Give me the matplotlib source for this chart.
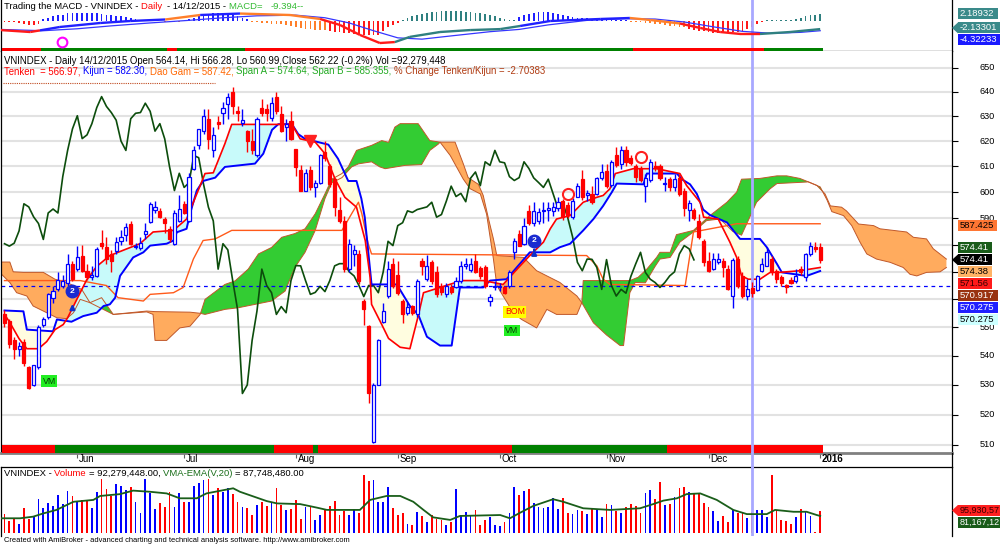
import numpy as np
import matplotlib
matplotlib.use('Agg')
import matplotlib.pyplot as plt
from matplotlib.patches import Rectangle, Polygon
from matplotlib.collections import LineCollection
from matplotlib.lines import Line2D
from matplotlib.transforms import IdentityTransform
import matplotlib.ticker as mticker

plt.rcParams['font.family'] = ['Liberation Sans', 'DejaVu Sans']

# ---------------- data ----------------
opens = [554.6, 552.2, 545.5, 542.5, 545, 536, 530, 536, 551, 553.5,
         560.6, 563.7, 565, 566, 573, 571, 576, 570.4, 568, 568.5,
         580.6, 579, 576.6, 577.8, 581.6, 583.5, 587.9, 579, 578.9, 584,
         588.5, 593, 592.8, 589.7, 586, 580.4, 589, 595.4, 589, 609,
         618.3, 624, 629, 616.3, 627.6, 631.2, 635, 640, 632, 627.2,
         624, 620, 614.3, 633.2, 633, 629.1, 638, 631, 625.7, 628.2,
         616.7, 608.4, 600.6, 608.4, 601.8, 603.6, 615.6, 610, 605, 593,
         589, 571, 576.6, 576.6, 559.4, 550.4, 511, 530, 552, 561.2,
         573, 569, 559.4, 555, 557.5, 554.6, 574, 567.2, 573.5, 570,
         565, 561.8, 564.3, 564.3, 566.8, 572, 570.5, 574, 571.5, 571.6,
         559.5, 564.5, 564.5, 564.3, 564.7, 577.5, 584.2, 580.4, 592.8, 588.3,
         589.1, 592.7, 593, 592.7, 594, 596.5, 595, 590.4, 598.3, 605,
         598.8, 599.3, 599.3, 605.6, 608, 602.6, 614.3, 611, 616.3, 613.4,
         610, 609.4, 602.3, 604.5, 610.2, 610, 603, 605, 601.8, 605.6,
         600.6, 593.3, 593.3, 589.1, 581.6, 574, 571, 573.8, 574, 571,
         561.2, 574.7, 568.5, 561.2, 564.14, 563.4, 570.4, 572.2, 574.7, 570.4,
         568, 565.2, 567, 566.8, 571, 568, 576.6, 579.3, 579]
highs = [556, 553, 546.7, 545, 546, 536.5, 537, 551, 553.5, 562.4,
         564.8, 570, 569, 576.6, 574, 579.7, 580, 573, 572, 579,
         585.4, 583, 578, 583, 585.5, 588, 589, 580.5, 583, 588,
         596, 596.5, 594, 590.5, 587, 593, 598.7, 596.5, 607.5, 618,
         625, 633, 633, 625.5, 630, 636, 639.4, 642, 634, 633,
         624.5, 625, 629.5, 637, 635, 638, 640, 634, 629, 632,
         617, 610.5, 609, 610, 604.5, 615, 620, 611, 605.6, 598,
         591, 582, 580, 578, 560, 551, 530.5, 546, 558.8, 574,
         575, 574, 560, 559, 558, 567.5, 575, 576.3, 574.5, 572,
         566, 566, 565.5, 568, 574, 575, 575, 576.5, 572, 572.5,
         562, 566.5, 566, 565, 570.8, 582.5, 585.5, 590, 595, 596,
         594, 596, 596, 596, 598.2, 597.5, 596, 597.8, 603.5, 608.5,
         601, 602.5, 606, 611, 611, 612.5, 617.7, 618, 618, 614.5,
         611, 610, 607, 613, 612, 611, 606, 606, 607, 607,
         601.5, 597, 594, 591.5, 582.3, 577.2, 577, 577, 575, 572.5,
         575, 576, 570, 567.3, 566.28, 569, 575, 579, 576, 571,
         569, 565.7, 568, 571, 572, 577, 581, 581, 580.8]
lows = [550, 542.8, 539, 540, 536.5, 528.5, 529.5, 535.5, 550, 552.8,
        558.8, 563, 564, 565, 566.5, 570.4, 569.8, 567, 567, 568,
        578.5, 573, 570, 576.6, 580, 581.6, 580, 578.5, 578, 582,
        588, 592, 590, 584.5, 581, 580, 588.5, 591.5, 588.5, 608.5,
        617, 623, 617, 613.5, 625, 627, 629, 631, 628, 626,
        615.5, 615, 613.5, 630, 628, 628, 631, 623.5, 620, 620.5,
        606.3, 600.5, 600.5, 601, 598, 603, 612, 602, 591, 588,
        570, 570, 572, 565.5, 551, 524, 510.5, 530, 551.5, 560.5,
        564, 561.5, 551.6, 554.5, 554.5, 553.5, 569, 566.5, 565.5, 561,
        561.5, 561, 562, 564, 566, 571, 570, 569.5, 567.5, 564,
        557.5, 563.5, 563, 561.8, 564, 574.7, 579.5, 580, 587.5, 587.2,
        587.8, 588, 589, 591, 592.8, 589.5, 590, 589.8, 598, 597,
        596.5, 595.5, 599, 604.5, 601.5, 602, 609.8, 609, 610, 610.5,
        604, 604, 596, 604, 608, 604.5, 600.5, 600.5, 600.5, 598.5,
        591, 589, 589.5, 582, 572, 569.8, 570.5, 573, 568, 563.5,
        557, 564, 560.5, 559.8, 560.99, 563, 569.8, 572, 569, 566,
        565, 562.3, 565.5, 566, 569, 566.8, 576, 577.3, 573.3]
closes = [551.6, 544.3, 542.5, 543.5, 537.5, 529, 536.7, 550, 552.8, 561.8,
          563, 567.1, 566.5, 573, 567.4, 575.4, 570.4, 568, 569, 578.5,
          579.7, 574.7, 574, 581, 583.1, 586.6, 580.4, 579.5, 580.6, 585.2,
          595.5, 594.3, 590.5, 588, 582, 592, 593.5, 592, 606, 616.3,
          624.9, 630.2, 621, 622.5, 627, 633.5, 638, 634, 631.5, 628.4,
          620, 616.3, 629, 631.2, 631.5, 635.3, 632, 624, 627, 620.9,
          609.8, 600.6, 607.3, 601.8, 603.6, 614.3, 613.4, 603, 594.2, 589,
          571, 580.4, 578.1, 566.8, 556.4, 527.1, 530, 545.4, 555.8, 571,
          565, 562.4, 554.6, 557.4, 555.2, 566.8, 572.3, 572.2, 566.8, 561.8,
          562.5, 564.7, 562.8, 566.8, 572.2, 573, 573, 570, 568.5, 565,
          561, 565, 565, 562.4, 570, 581.3, 579.7, 587.2, 588.3, 592.8,
          592.2, 593.3, 593.8, 594.3, 596.1, 590.4, 591.4, 596.5, 602.3, 598.3,
          599.5, 596.3, 605.4, 607.8, 602.5, 611.8, 610.4, 616.3, 611.8, 611.4,
          606, 604.5, 605.6, 611.8, 609.2, 605.5, 603.7, 601.8, 605, 599.3,
          593.7, 595.8, 590.2, 583, 573.5, 570.4, 574.7, 574.6, 571.6, 563.6,
          574.5, 565, 561.2, 563.6, 562.22, 568.3, 572.9, 577.2, 569.8, 567.3,
          566.1, 564.3, 566.1, 568.5, 570, 576.6, 579.7, 578.5, 574.41]

# volume, millions
volumes = [80, 52, 57, 37, 105, 57, 72, 144, 105, 129,
           115, 162, 123, 181, 158, 133, 141, 141, 105, 176,
           230, 187, 158, 208, 201, 184, 195, 133, 83, 230,
           172, 101, 126, 112, 176, 109, 169, 133, 133, 201,
           215, 227, 230, 162, 191, 176, 191, 166, 133, 109,
           105, 76, 119, 133, 115, 133, 191, 119, 98, 101,
           141, 59, 112, 115, 55, 76, 98, 115, 138, 76,
           95, 76, 101, 86, 248, 224, 227, 133, 133, 195,
           105, 76, 83, 37, 33, 90, 72, 47, 76, 57,
           55, 33, 47, 187, 76, 90, 72, 98, 33, 55,
           66, 33, 29, 47, 86, 198, 162, 181, 187, 126,
           109, 108, 109, 148, 101, 148, 86, 80, 98, 95,
           80, 101, 101, 69, 123, 119, 95, 86, 109, 123,
           115, 86, 172, 184, 144, 219, 119, 123, 155, 191,
           195, 176, 172, 166, 126, 109, 95, 52, 72, 47,
           98, 86, 90, 62, 90, 98, 98, 66, 248, 98,
           55, 52, 37, 66, 101, 90, 72, 4, 93]
vema_i = [-1, 3.2, 5.9, 8, 10.7, 14.2, 18.3, 19.7, 23.8, 26.5,
          30, 33.4, 36.1, 39.6, 41.6, 47.1, 48.5, 54, 56.1, 60.9,
          64.3, 66.4, 73.2, 75.3, 78.7, 81.5, 84.2, 86.3, 88.3, 91.8,
          93.8, 102.1, 104.1, 106.2, 108.9, 113, 115.1, 119.2, 124.7, 130.9,
          133.6, 135.7, 138.5, 140.5, 143.3, 146.7, 150.1, 152.9, 157, 158.7,
          162.5, 165.2, 167.3, 168]
vema_v = [62, 62, 69, 83, 98, 133, 141, 158, 166, 181,
          176, 169, 148, 148, 169, 191, 176, 136, 126, 123,
          108, 98, 98, 141, 158, 158, 133, 98, 66, 55,
          72, 76, 62, 86, 115, 144, 133, 105, 98, 105,
          123, 138, 148, 166, 169, 141, 98, 80, 80, 98,
          90, 90, 76, 72]

tenkan_i = [0, 1, 3, 4.6, 7, 8.7, 10.4, 12.1, 13, 14.9,
            16.9, 19, 21.7, 25.2, 27.9, 30.6, 34.8, 37.5, 40.3, 41.3,
            43, 45.4, 46.8, 59.2, 60.9, 64, 66, 68.1, 70.1, 72.5,
            74.3, 75.3, 75.6, 77.7, 79.1, 81.5, 83.5, 85.2, 86.3, 89.7,
            94.2, 98.6, 102.7, 106.2, 108.2, 111, 112.4, 113.7, 116.5, 119.2,
            122, 123.3, 124.7, 125.8, 129.5, 134.3, 139.1, 140.5, 143.3,
            144, 147, 149.4, 150.8, 151.8, 153.2, 155.6, 157.7, 159.7, 163.8,
            168]
tenkan_v = [554.6, 552, 546, 542.5, 542.5, 545, 549.2, 551, 553.4, 560,
            567, 572, 576, 578.5, 580.4, 584.8, 585.4, 589.7, 602.5, 607.2,
            607.5, 619, 626.7, 626.7, 620.9, 619.6, 615, 605, 598, 594.2,
            581.6, 568, 558.2, 551, 546.1, 543, 542.5, 554, 562.4, 564.3,
            566.8, 566.8, 565.4, 572.2, 576, 581, 586, 589.7, 591, 596.1,
            598, 598.7, 601.3, 607.2, 609.1, 609.1, 607.2, 602.5, 596,
            590.4, 589.7, 581, 575.3, 568.5, 567.3, 567.3, 569.8, 569.8, 570.4,
            571.6]
kijun_i = [0, 3.9, 4.6, 10, 10.8, 13.8, 16.2, 19, 20.4, 21.7,
           22.8, 23.8, 26.5, 28.6, 30, 33.4, 34.8, 35.5, 37.5, 38.2,
           39.6, 40.9, 43.4, 45.4, 51.6, 53.3, 55.1, 56.4, 59.2, 60.5,
           61.9, 66.7, 68.7, 70.8, 72.5, 73.5, 74.2, 75.6, 80.8, 83.5,
           85.2, 87, 89.7, 92.1, 93.8, 98.6, 100, 103.4, 108.2, 112.4,
           114.4, 116.5, 119.2, 121.3, 123.3, 125.1, 126.1, 131.6, 132.3, 138.5,
           139.5, 141.2, 142.6, 143.9, 145.3, 148.8, 151.5, 155.6, 157, 159.1,
           160.1, 165.2, 168]
kijun_v = [556, 555.7, 549.2, 548.6, 552.8, 552, 554, 555.2, 557.6, 558.2,
           560.6, 568.5, 575.3, 577.2, 579.7, 580.4, 581.6, 584.7, 586, 591.6,
           600.6, 604.3, 605.6, 609.8, 611.1, 615, 624.5, 626.8, 626.8, 622.8,
           620.9, 618.6, 613, 604.3, 604.3, 597.5, 590.4, 565.4, 565.4, 557.6,
           554.6, 546.7, 543.6, 543.6, 564.3, 564.3, 566.8, 567.3, 577.2, 577.2,
           579.1, 580.4, 585.4, 589.7, 594.7, 600, 603.3, 603, 607.2, 607.2,
           605, 603, 599.3, 593.3, 591.2, 588.4, 582.2, 582.2, 579.1, 572.9,
           569.8, 568.5, 570.3]
daogam_i = [0, 15.6, 21, 23.4, 28.6, 30, 34.8, 36.8, 38.9, 40.9,
            43.4, 46.8, 69.5, 71.5, 72.9, 73.6, 74.9, 75.6, 119.9, 122,
            123.3, 124.7, 140.2, 141.9, 147.4, 150.8, 168]
daogam_v = [566.8, 566.8, 565, 560.6, 559.4, 561.8, 562.4, 564.3, 574.7, 581.6,
            582.2, 585.4, 585.4, 591.7, 596.1, 591.7, 580.4, 576.6, 576, 572.2,
            567.3, 565.4, 565, 584.8, 586.7, 587.9, 587.9]
spanA_i = [-1, 1.1, 2.5, 4.6, 5.9, 8.7, 10.8, 12.8, 14.2, 15.6,
           17.6, 20, 22.4, 29.3, 30.6, 31, 33.4, 36.1, 38.2, 40.3,
           41.3, 45.4, 47.5, 50.2, 52.3, 55, 57.1, 59.8, 61.9, 64,
           66, 67.4, 69.5, 70.8, 72.5, 75.6, 77.7, 79.1, 80.4, 81.5,
           85.2, 87.6, 89.7, 91.8, 94.5, 95.9, 98, 99.3, 100.7, 101.4,
           102.7, 104.8, 106.5, 109.6, 111.7, 113.7, 117.9, 118.9, 119.2, 128.8,
           130.5, 132.3, 134.3, 135, 137.1, 138.4, 141.9, 145.3, 148.8, 150.8,
           151.8, 155.6, 159.1, 161.1, 163.8, 165.5, 168, 169.4, 170.4, 172.8,
           174.5, 176.2, 177.6, 179.6, 182.4, 185.1, 186.5, 187.9, 189.9, 192.7,
           194]
spanA_v = [569.8, 566.1, 562.4, 561.2, 557.6, 555.2, 553.4, 553.1, 555.2, 560,
           558.8, 560.6, 554.6, 555.5, 554.6, 545.4, 545.4, 549.8, 550.4, 554.6,
           560, 565.4, 566.7, 571, 576.6, 579, 582.8, 584.2, 586, 591.7,
           599.3, 605, 607.2, 609.8, 616.3, 618.3, 620.2, 619.5, 625.6, 627,
           627, 620.2, 619.6, 614.3, 605, 601.3, 599.3, 591.5, 574.7, 565,
           561.2, 555.2, 552.8, 549.8, 556.4, 554.6, 554.6, 558.8, 566.8, 566.8,
           568, 571, 575.3, 577.2, 577.2, 583.8, 585.4, 591, 596.1, 600,
           605, 605.3, 606.3, 606.3, 605.3, 604, 602, 597, 592.5, 591,
           587.2, 581, 576.6, 574.7, 573.5, 571.6, 569.1, 568.5, 569.8, 570,
           571.6]
spanB_i = [-1, 1.1, 1.8, 3.9, 8, 10.4, 12.8, 15.9, 17.6, 22.4,
           29.3, 31, 38.2, 40.3, 41.3, 45.4, 48.2, 55, 57.8, 59.8,
           61.9, 64, 66, 67.4, 69.5, 71.5, 72.9, 75.6, 77.3, 78.4,
           82.5, 85.9, 87.6, 89.4, 89.7, 92.8, 94.5, 95.5, 97.6, 98.6,
           99.7, 100.7, 101.4, 106.9, 109.6, 114.4, 117.9, 118.9, 121.3, 124,
           126.8, 127.5, 128.8, 129.9, 132, 134, 135, 137.1, 139.1, 141.9,
           144.6, 147.4, 150, 151.8, 154.9, 157.7, 159.1, 165.2, 165.5, 167.3,
           169, 170.1, 172.4, 173.4, 175.9, 179, 180.3, 185.8, 187.2, 189.9,
           191.3, 194]
spanB_v = [573.6, 573.6, 570, 569.8, 569.8, 567.3, 566.1, 563.6, 558.8, 554.6,
           555.8, 555.6, 555.4, 555, 554.6, 556.4, 557, 559.4, 563, 571.6,
           577.2, 585.4, 597.5, 603.6, 605.6, 609.8, 611, 611.8, 609.8, 609.1,
           610.4, 610.7, 616.3, 618.9, 619.6, 619.6, 611, 605.6, 603, 598.7,
           589.7, 582.2, 576, 575.3, 570.4, 566.1, 561.2, 558.8, 551.6, 547.3,
           543.6, 543.6, 562.4, 566.1, 566, 572, 574.7, 575.3, 581, 584.8,
           589.1, 589.7, 585, 583.6, 596.1, 601.3, 603.3, 603.9, 604, 602.6,
           599.3, 594.7, 594.2, 592.8, 587.8, 587.2, 586, 584.8, 582.8, 582.2,
           578.5, 574.7]
dashed_level = 565

macd_i = [-1, 5.3, 7.3, 11.4, 19.7, 25.9, 33.1, 40.3, 48.5, 58.8,
          65, 69.1, 73.2, 77.3, 80.4, 83.5, 89.7, 95.9, 102.1, 106.2,
          112.4, 122.7, 128.8, 133, 139.1, 143.3, 147.4, 151.5, 155.6, 161.8,
          168]
macd_v = [-2.78, -3.4, -2.9, -1.85, -0.62, 0, 0.46, 1.85, 2.3, 1.85,
          0.62, -1.23, -4.3, -6.8, -6.5, -4.9, -3.4, -2.8, -2.5, -1.54,
          0, 0.62, 0.93, 0.31, -0.77, -2.16, -3.4, -4.0, -4.0, -3.4,
          -2.5]
signal_i = [-1, 8, 15, 22, 30, 38, 45, 52, 60, 66,
            71, 76, 81, 86, 92, 100, 106, 112, 120, 128,
            134, 140, 146, 152, 158, 164, 168]
signal_v = [-2.6, -3.0, -2.4, -1.5, -0.6, 0.2, 1.0, 1.6, 1.8, 1.0,
            -0.6, -3.0, -5.2, -5.6, -4.6, -3.3, -2.6, -1.2, 0.2, 0.7,
            0.6, -0.3, -1.8, -3.2, -3.8, -3.5, -3.0]
hist = [-0.3, -0.4, -0.3, -0.5, -1.0, -1.2, -1.3, -0.8,
        0.5, 0.8, 1.5, 1.9, 2.0, 2.4, 2.5, 2.6, 2.6, 2.5, 2.4, 2.4, 2.2, 2.0, 1.9,
        1.6, 1.4, 1.1, 0.9, 0.6, 0.4, 0.3, 0.3, 0.2, 0.15,
        -0.2, -0.3, -0.25, -0.2, -0.1,
        0.6, 1.0, 1.5, 1.9, 2.1, 2.4, 2.4, 2.3, 2.1, 1.8, 1.5, 1.0, 0.5,
        -0.2, -0.3, -0.5, -0.6, -0.8, -1.0, -1.0, -1.2, -1.6, -1.9, -2.2, -2.4,
        -2.6, -2.8, -2.7, -2.9,
        -3.1, -3.3, -3.5, -3.6, -3.8, -3.9, -4.0, -4.2, -4.3, -4.3, -4.2, -3.0,
        -1.8, -1.2, -0.5,
        0.3, 0.8, 1.5, 1.9, 2.3, 2.5, 2.8, 2.9, 3.1, 3.1, 3.1, 3.0, 3.0, 2.9,
        2.8, 2.6, 2.5, 2.3, 2.0, 1.6, 1.0, 0.5, 0.3, 0.3,
        1.2, 1.9, 2.3, 2.6, 2.9, 2.9, 2.8, 2.6, 2.3, 2.0, 1.5, 1.2, 1.0, 0.9,
        0.8, 0.7, 0.7, 0.6, 0.6, 0.5, 0.4, 0.3, 0.2,
        -0.2, -0.3, -0.4, -0.5, -0.6, -0.8, -1.0, -1.2, -1.4, -1.6, -1.8, -2.0,
        -2.5, -2.8, -3.0, -3.2, -3.4, -3.6, -3.7, -3.7, -3.6, -3.5, -3.3, -3.0,
        -2.6, -1.7, -1.0, -0.3,
        0.2, 0.2, 0.3, 0.3, 0.3, 0.4, 0.5, 1.0, 1.5, 1.8, 2.0, 2.19]
hist_runs = [('r', 8), ('b', 25), ('o', 5), ('b', 13), ('o', 16), ('r', 15),
             ('t', 24), ('b', 23), ('o', 12), ('r', 16), ('t', 12)]
macd_strip_runs = [('r', 8), ('g', 26), ('r', 2), ('g', 14), ('r', 32),
                   ('g', 48), ('r', 27), ('g', 12)]
trend_runs = [('r', 11), ('g', 45), ('r', 8), ('g', 1), ('r', 40), ('g', 32), ('r', 32)]

month_labels = ['Jun', 'Jul', 'Aug', 'Sep', 'Oct', 'Nov', 'Dec', '2016']
month_start = [15, 37, 60, 81, 102, 124, 145, 168]
price_ticks = [510, 520, 530, 540, 550, 560, 570, 580, 590, 600, 610, 620, 630, 640, 650]
selected_bar = 154

# ---------------- figure ----------------
W, H = 1000, 547
fig = plt.figure(figsize=(W / 100, H / 100), dpi=100)
renderer = fig.canvas.get_renderer()
PX = IdentityTransform()


def panel(top, bottom):
    return fig.add_axes([1 / W, 1 - bottom / H, 951 / W, (bottom - top) / H])


ax_m = panel(0, 51)
ax = panel(51, 453)
ax_v = panel(467, 536)
for a in (ax_m, ax, ax_v):
    a.set_xlim(-0.72, 195.15)
    for s in a.spines.values():
        s.set_linewidth(0.9)

n = len(closes)
idx = np.arange(n)


def expand(runs):
    out = []
    for code, k in runs:
        out += [code] * k
    return out


# ---------------- MACD panel ----------------
hist_col = {'r': '#ff1a1a', 'o': '#ff7f2a', 'b': '#2020ff', 't': '#2f8080'}
hcodes = expand(hist_runs)
ax_m.set_ylim(-9.26, 6.48)
ax_m.bar(idx, hist, width=0.36, color=[hist_col[c] for c in hcodes], zorder=2)
ax_m.plot(signal_i, signal_v, color='#3535ff', lw=0.9, zorder=3)
segs, cols = [], []
for k in range(len(macd_i) - 1):
    segs.append([(macd_i[k], macd_v[k]), (macd_i[k + 1], macd_v[k + 1])])
    mid = int(round(min(max((macd_i[k] + macd_i[k + 1]) / 2, 0), n - 1)))
    cols.append(hist_col[hcodes[mid]])
ax_m.add_collection(LineCollection(segs, colors=cols, linewidths=1.7, zorder=4))
start = 0
for code, k in macd_strip_runs:
    ax_m.add_patch(Rectangle((start - 0.5, 0.006), k, 0.047, transform=ax_m.get_xaxis_transform(),
                             color='#ff0000' if code == 'r' else '#008000', lw=0, zorder=5))
    start += k
ax_m.plot([11.8], [-6.5], 'o', ms=7, mfc='none', mec='#ff00ff', mew=1.5, zorder=6)
ax_m.set_xticks([])
ax_m.set_yticks([])
ax_m.spines['top'].set_visible(False)

# ---------------- price panel ----------------
ax.set_yscale('log')
ax.set_ylim(507.3, 657.0)
ax.yaxis.set_major_locator(mticker.FixedLocator(price_ticks))
ax.yaxis.set_minor_locator(mticker.NullLocator())
ax.yaxis.set_major_formatter(mticker.NullFormatter())
ax.tick_params(axis='y', left=False, right=True, labelleft=False, labelright=False,
               length=4, width=0.8, direction='out')
ax.set_xticks(month_start)
ax.tick_params(axis='x', length=3.5, width=0.8, color='#606060', direction='out', labelbottom=False)
ax.grid(axis='y', color='#e2e2e2', lw=1.5)
ax.set_axisbelow(True)
ax.spines['top'].set_visible(False)
ax.spines['bottom'].set_color('#808080')
ax.spines['bottom'].set_linewidth(2)

# cloud
xc = np.linspace(-1, 194, 9751)
sa = np.interp(xc, spanA_i, spanA_v)
sb = np.interp(xc, spanB_i, spanB_v)
ax.fill_between(xc, sa, sb, where=sa >= sb, interpolate=True, color='#33cc33', lw=0, zorder=1)
ax.fill_between(xc, sa, sb, where=sa < sb, interpolate=True, color='#ffab5e', lw=0, zorder=1)

# tenkan / kijun band
xt = np.linspace(0, 168, 8401)
tk = np.interp(xt, tenkan_i, tenkan_v)
kj = np.interp(xt, kijun_i, kijun_v)
ax.fill_between(xt, tk, kj, where=tk >= kj, interpolate=True, color='#c8fafa', lw=0, zorder=1.2)
ax.fill_between(xt, tk, kj, where=tk < kj, interpolate=True, color='#fffde0', lw=0, zorder=1.2)

ax.plot(spanA_i, spanA_v, color='#c0582a', lw=0.7, zorder=1.4)
ax.plot(spanB_i, spanB_v, color='#c0582a', lw=0.7, zorder=1.4)
ax.axhline(dashed_level, color='#0000ff', lw=0.9, ls=(0, (3, 3)), zorder=2)
ax.plot(daogam_i, daogam_v, color='#ff5a1a', lw=1.0, zorder=2.1)
chikou = closes[26:]
ax.plot(np.arange(len(chikou)), chikou, color='#0c4d0c', lw=1.2, zorder=2.2)
ax.plot(kijun_i, kijun_v, color='#0000ff', lw=1.4, zorder=2.4)
ax.plot(tenkan_i, tenkan_v, color='#ff0000', lw=1.2, zorder=2.6)

start = 0
for code, k in trend_runs:
    ax.add_patch(Rectangle((start - 0.5, 0), k, 8 / 402, transform=ax.get_xaxis_transform(),
                           color='#ff0000' if code == 'r' else '#008000', lw=0, zorder=2.7))
    start += k

for a in (ax_m, ax, ax_v):
    a.axvline(selected_bar, color='#a8a8ff', lw=2, zorder=2.8)

# candles
up = [c >= o for o, c in zip(opens, closes)]
ccol = ['#0000ff' if u else '#ff0000' for u in up]
ax.vlines(idx, lows, highs, colors=ccol, lw=1, zorder=3)
for i in range(n):
    o, c = opens[i], closes[i]
    ax.add_patch(Rectangle((i - 0.32, min(o, c)), 0.64, max(abs(c - o), 0.25),
                           fc='white' if up[i] else ccol[i], ec=ccol[i], lw=0.9, zorder=3.1))

# signal markers
for bi, p, lo_, hi_ in [(14.0, 563.0, 555.6, 559.4), (109.1, 581.5, 577.0, 579.3)]:
    ax.annotate('', xy=(bi, hi_), xytext=(bi, lo_),
                arrowprops=dict(arrowstyle='-|>', color='#1030c8', lw=1.6, mutation_scale=7), zorder=4)
    ax.plot([bi], [p], 'o', ms=9, mfc='#1a2ad0', mec='#1a2ad0', zorder=4.1)
    ax.text(bi, p, '2', color='white', fontsize=6, fontweight='bold', ha='center', va='center', zorder=4.2)
ax.plot([62.9], [620.2], 'v', ms=8, color='#ff2020', zorder=4)
ax.plot([116, 131.1], [599.2, 613.6], 'o', ms=8, mfc='none', mec='#ff2020', mew=1.5, zorder=4)
for bi, p in [(9.2, 531.3), (104.5, 548.9)]:
    ax.text(bi, p, 'VM', fontsize=6.3, color='#063d06', ha='center', va='center', zorder=4,
            bbox=dict(boxstyle='square,pad=0.15', fc='#22ee22', ec='none'))
ax.text(105.1, 555.5, 'BOM', fontsize=6.3, color='#ff0000', ha='center', va='center', zorder=4,
        bbox=dict(boxstyle='square,pad=0.15', fc='#ffff00', ec='none'))

# ---------------- volume panel ----------------
ax_v.set_ylim(-14.2, 282.6)
ax_v.bar(idx, volumes, width=0.36, color=ccol, zorder=2)
ax_v.plot(vema_i, vema_v, color='#1a5e1a', lw=1.3, zorder=3)
ax_v.set_xticks([])
ax_v.set_yticks([])
ax_v.spines['bottom'].set_visible(False)


# ---------------- text helpers ----------------
def px_w(s, size, weight='normal'):
    if not s:
        return 0.0
    a = fig.text(0, 0, '|' + s + '|', fontsize=size, fontweight=weight)
    b = fig.text(0, 0, '||', fontsize=size, fontweight=weight)
    w = a.get_window_extent(renderer).width - b.get_window_extent(renderer).width
    a.remove()
    b.remove()
    return w


def colored_line(x, y_img, parts, size):
    done = ''
    for s, col in parts:
        fig.text(x + px_w(done, size), H - y_img, s, color=col, fontsize=size,
                 va='center', ha='left', transform=PX)
        done += s


def stack_labels(axis, items, anchor, size=6.8):
    ys = [H - axis.transData.transform((0, it[1]))[1] for it in items]
    pos = list(ys)
    for k in range(anchor - 1, -1, -1):
        pos[k] = min(ys[k], pos[k + 1] - 12)
    for k in range(anchor + 1, len(items)):
        pos[k] = max(ys[k], pos[k - 1] + 12)
    for k, it in enumerate(items):
        text, _, fc, tc, pointer = it
        y = pos[k]
        w = px_w(text, size)
        fig.patches.append(Rectangle((958, H - y - 5.5), w + 5, 11, transform=PX,
                                     fc=fc, ec='none', zorder=4))
        if pointer:
            fig.patches.append(Polygon([(952, H - y), (958, H - y + 5.5), (958, H - y - 5.5)],
                                       closed=True, transform=PX, fc=fc, ec='none', zorder=4))
        fig.text(959.5, H - y, text, transform=PX, fontsize=size, color=tc,
                 va='center', ha='left', zorder=5)
    return pos


# titles
colored_line(4, 6.5, [('Trading the MACD - VNINDEX - ', 'black'), ('Daily  ', '#ff0000'),
                      ('- 14/12/2015 - ', 'black'), ('MACD=   ', '#33bb33'), ('-9.394--', '#33bb33')], 6.8)
colored_line(4, 61.5, [('VNINDEX - Daily 14/12/2015 Open 564.14, Hi 566.28, Lo 560.99,Close 562.22 '
                        '(-0.2%) Vol =92,279,448', 'black')], 6.9)
colored_line(4, 71.5, [('Tenken  = 566.97, ', '#ff0000'), ('Kijun = 582.30, ', '#0000ff'),
                       ('Dao Gam = 587.42, ', '#ff6600'), ('Span A = 574.64, ', '#22aa22'),
                       ('Span B = 585.355, ', '#22aa22'), ('% Change Tenken/Kijun = -2.70383', '#b03a10')], 6.9)
colored_line(4, 473, [('VNINDEX - ', 'black'), ('Volume ', '#ff0000'), ('= 92,279,448.00, ', 'black'),
                      ('VMA-EMA(V,20) ', '#1a6e1a'), ('= 87,748,480.00', 'black')], 6.8)
fig.text(4, H - 541, 'Created with AmiBroker - advanced charting and technical analysis software. '
         'http://www.amibroker.com', transform=PX, fontsize=5.4, va='center', ha='left')
fig.add_artist(Line2D([3, 215], [H - 83, H - 83], transform=PX, color='#c04a20', lw=0.8, ls=(0, (1, 1))))

# date labels
for m, lab in zip(month_start, month_labels):
    ax.text(m + 0.35, -6 / 402, lab, transform=ax.get_xaxis_transform(), fontsize=7,
            fontweight='bold' if lab == '2016' else 'normal', va='center', ha='left', clip_on=False)

# value labels on the right
box_y = stack_labels(ax, [('587.425', 587.425, '#ff7633', 'black', False),
                          ('574.41', 574.41, '#1a5c1a', 'white', False),
                          ('574.41', 574.41, 'black', 'white', True),
                          ('574.38', 574.38, '#ffb366', 'black', False),
                          ('571.56', 571.56, '#ff1a1a', '#3a0000', False),
                          ('570.917', 570.917, '#993311', 'white', False),
                          ('570.275', 570.275, '#2020ff', 'white', False),
                          ('570.275', 570.275, '#ccffff', 'black', False)], anchor=2)
stack_labels(ax_m, [('2.18932', 2.18932, '#3a8a8a', 'white', False),
                    ('-2.13301', -2.13301, '#3a8a8a', 'white', True),
                    ('-4.32233', -4.32233, '#1a1aff', 'white', False)], anchor=1)
stack_labels(ax_v, [('95,930,57', 95.93, '#ff2020', '#3a0000', True),
                    ('81,167,12', 81.17, '#1a5c1a', 'white', False)], anchor=0, size=6.5)

# price scale labels (the ones hidden under value boxes are not drawn)
for p in price_ticks:
    yd = ax.transData.transform((0, p))[1]
    if min(abs((H - yd) - b) for b in box_y) < 5.5:
        continue
    fig.text(995, yd, str(p), transform=PX, fontsize=6.6, ha='right', va='center', zorder=3)

# selector line and right border across the date strip
xsel = ax.transData.transform((selected_bar, 600))[0]
fig.add_artist(Line2D([xsel, xsel], [H - 467, H - 453], transform=PX, color='#a8a8ff', lw=2))
fig.add_artist(Line2D([952, 952], [H - 467, H - 453], transform=PX, color='black', lw=0.9))

fig.savefig('out.png', dpi=100)
